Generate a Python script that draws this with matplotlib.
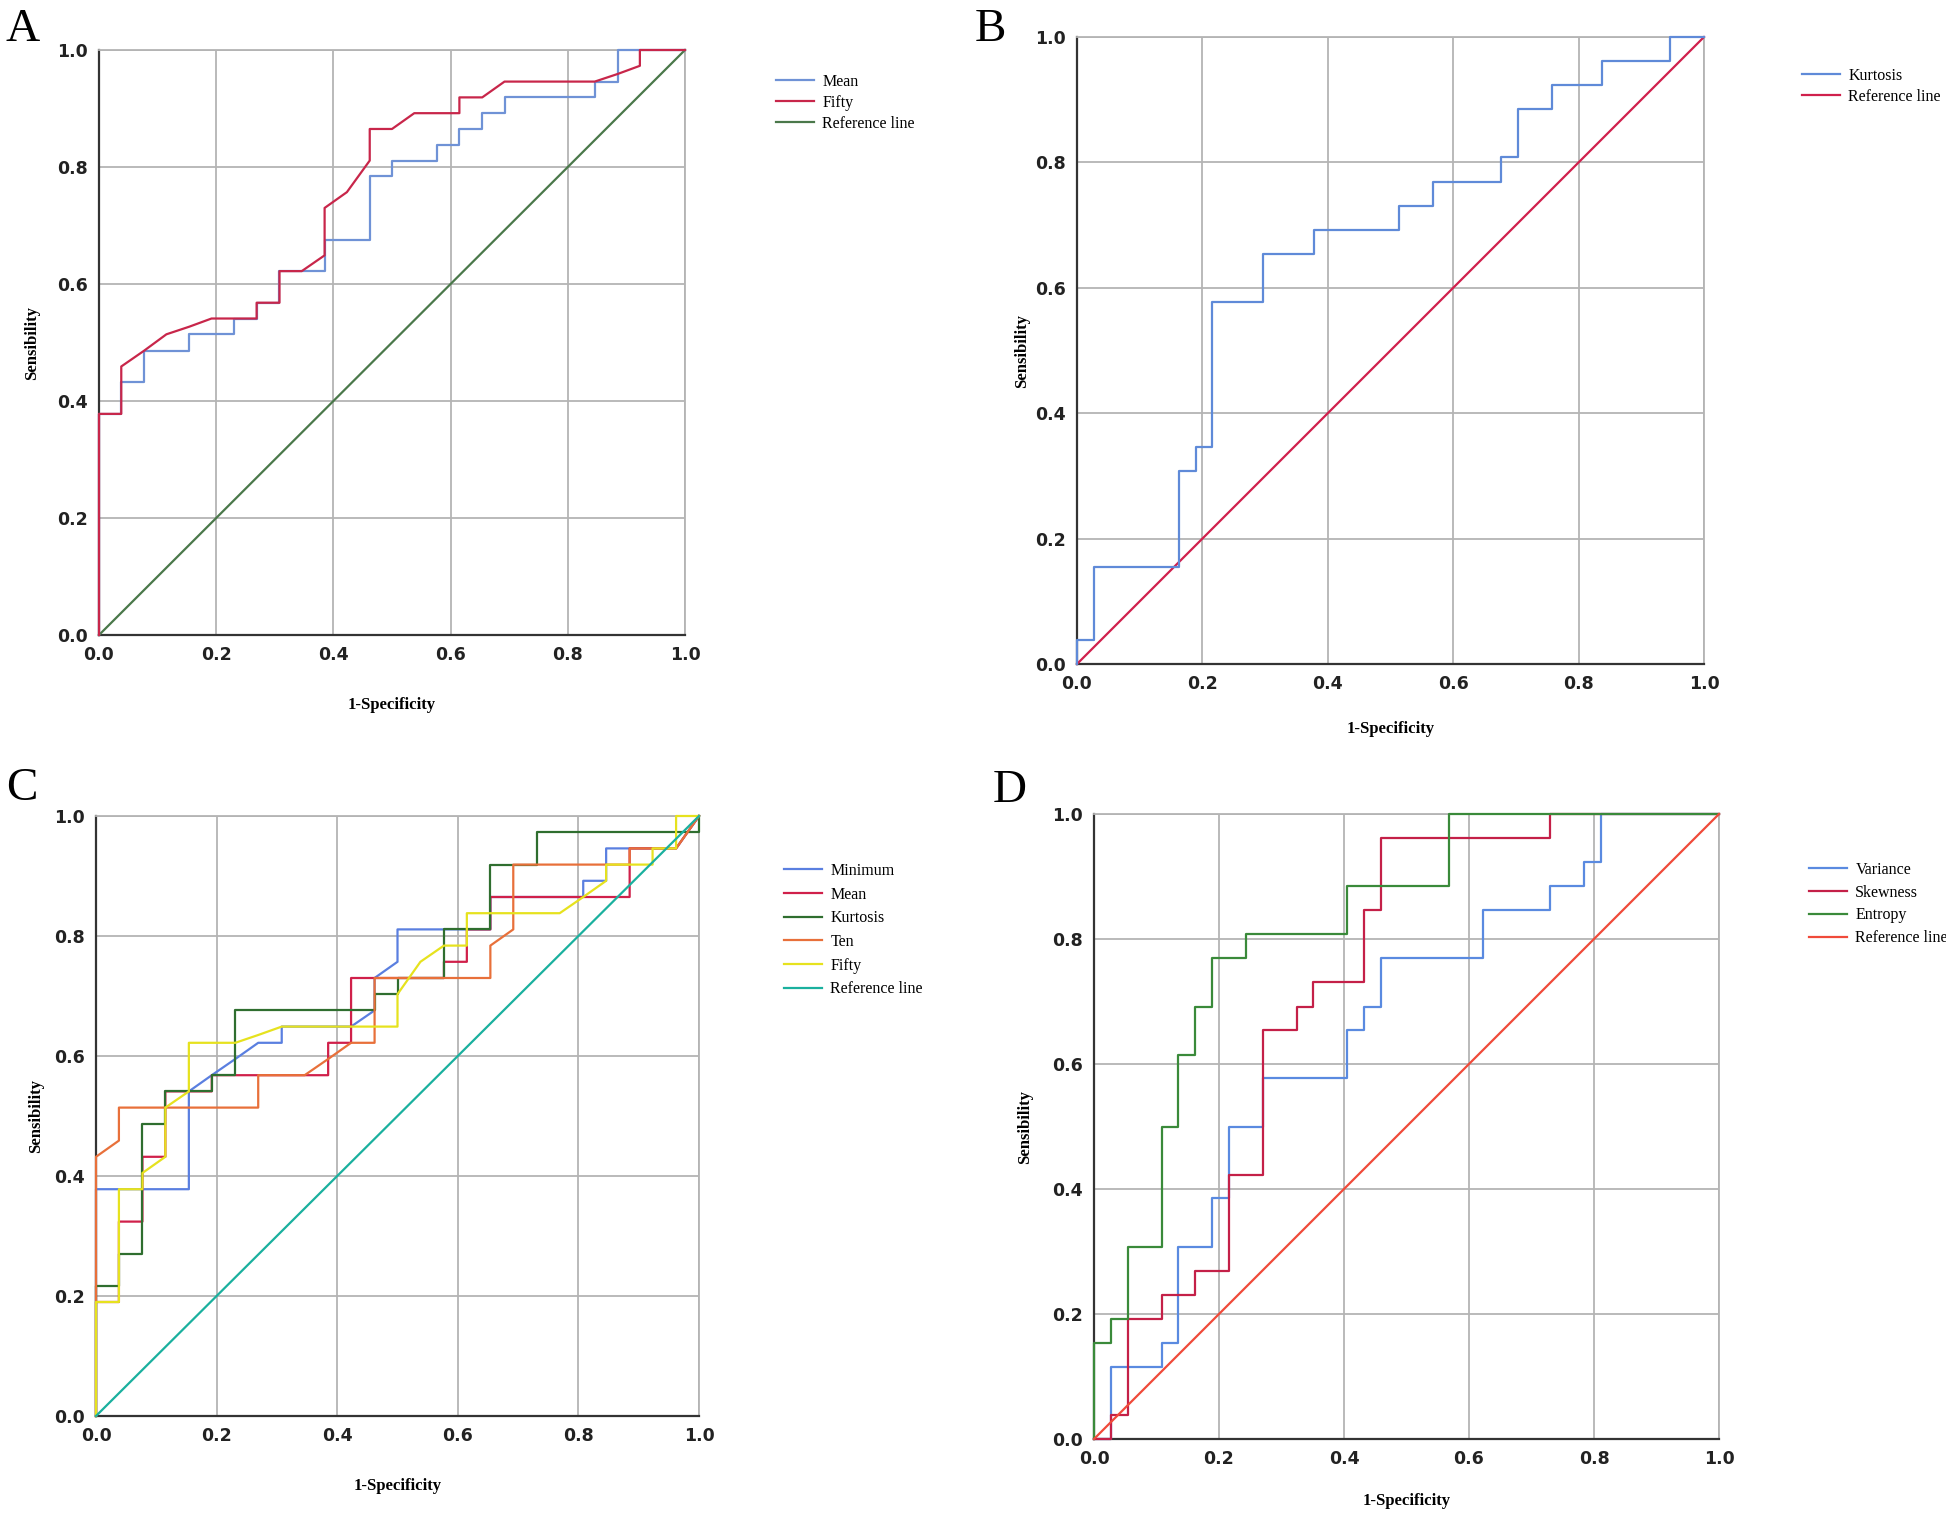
import numpy as np
import matplotlib
matplotlib.use("Agg")
import matplotlib.pyplot as plt

# ---- Panel A ----
a_fpr_mean = [0, 0, 0.038, 0.038, 0.077, 0.077, 0.154, 0.154, 0.231, 0.231, 0.269, 0.269,
              0.308, 0.308, 0.385, 0.385, 0.462, 0.462, 0.5, 0.5, 0.577, 0.577, 0.615, 0.615,
              0.654, 0.654, 0.692, 0.692, 0.846, 0.846, 0.885, 0.885, 1.0]
a_tpr_mean = [0, 0.378, 0.378, 0.432, 0.432, 0.486, 0.486, 0.514, 0.514, 0.541, 0.541, 0.568,
              0.568, 0.622, 0.622, 0.676, 0.676, 0.784, 0.784, 0.811, 0.811, 0.838, 0.838, 0.865,
              0.865, 0.892, 0.892, 0.919, 0.919, 0.946, 0.946, 1.0, 1.0]
a_fpr_fifty = [0, 0, 0.038, 0.038, 0.077, 0.115, 0.154, 0.192, 0.269, 0.269, 0.308, 0.308,
               0.346, 0.385, 0.385, 0.423, 0.462, 0.462, 0.5, 0.538, 0.615, 0.615, 0.654,
               0.692, 0.846, 0.885, 0.923, 0.923, 1.0]
a_tpr_fifty = [0, 0.378, 0.378, 0.459, 0.486, 0.514, 0.527, 0.541, 0.541, 0.568, 0.568, 0.622,
               0.622, 0.649, 0.730, 0.757, 0.811, 0.865, 0.865, 0.892, 0.892, 0.919, 0.919,
               0.946, 0.946, 0.959, 0.973, 1.0, 1.0]

# ---- Panel B ----
b_fpr_kurt = [0, 0, 0.027, 0.027, 0.162, 0.162, 0.189, 0.189, 0.216, 0.216, 0.297, 0.297,
              0.378, 0.378, 0.514, 0.514, 0.568, 0.568, 0.676, 0.676, 0.703, 0.703, 0.757,
              0.757, 0.838, 0.838, 0.946, 0.946, 1.0]
b_tpr_kurt = [0, 0.038, 0.038, 0.154, 0.154, 0.308, 0.308, 0.346, 0.346, 0.577, 0.577, 0.654,
              0.654, 0.692, 0.692, 0.731, 0.731, 0.769, 0.769, 0.808, 0.808, 0.885, 0.885,
              0.923, 0.923, 0.962, 0.962, 1.0, 1.0]

# ---- Panel C ----
c_fpr_min = [0, 0, 0.154, 0.154, 0.192, 0.231, 0.269, 0.308, 0.308, 0.423, 0.462, 0.462, 0.5,
             0.5, 0.654, 0.654, 0.808, 0.808, 0.846, 0.846, 0.962, 1.0]
c_tpr_min = [0, 0.378, 0.378, 0.541, 0.568, 0.595, 0.622, 0.622, 0.649, 0.649, 0.676, 0.730,
             0.757, 0.811, 0.811, 0.865, 0.865, 0.892, 0.892, 0.946, 0.946, 1.0]
c_fpr_mean = [0, 0, 0.038, 0.038, 0.077, 0.077, 0.115, 0.115, 0.192, 0.192, 0.385, 0.385, 0.423,
              0.423, 0.577, 0.577, 0.615, 0.615, 0.654, 0.654, 0.885, 0.885, 0.962, 1.0]
c_tpr_mean = [0, 0.19, 0.19, 0.324, 0.324, 0.432, 0.432, 0.541, 0.541, 0.568, 0.568, 0.622,
              0.622, 0.730, 0.730, 0.757, 0.757, 0.811, 0.811, 0.865, 0.865, 0.946, 0.946, 1.0]
c_fpr_kurt = [0, 0, 0.038, 0.038, 0.077, 0.077, 0.115, 0.115, 0.192, 0.192, 0.231, 0.231, 0.462,
              0.462, 0.5, 0.5, 0.577, 0.577, 0.654, 0.654, 0.731, 0.731, 1.0, 1.0]
c_tpr_kurt = [0, 0.216, 0.216, 0.270, 0.270, 0.486, 0.486, 0.541, 0.541, 0.568, 0.568, 0.676,
              0.676, 0.703, 0.703, 0.730, 0.730, 0.811, 0.811, 0.919, 0.919, 0.973, 0.973, 1.0]
c_fpr_ten = [0, 0, 0.038, 0.038, 0.269, 0.269, 0.346, 0.385, 0.423, 0.462, 0.462, 0.654, 0.654,
             0.692, 0.692, 0.885, 0.885, 0.962, 1.0]
c_tpr_ten = [0, 0.432, 0.459, 0.514, 0.514, 0.568, 0.568, 0.595, 0.622, 0.622, 0.730, 0.730,
             0.784, 0.811, 0.919, 0.919, 0.946, 0.946, 1.0]
c_fpr_fifty = [0, 0, 0.038, 0.038, 0.077, 0.077, 0.115, 0.115, 0.154, 0.154, 0.231, 0.269,
               0.308, 0.5, 0.5, 0.538, 0.577, 0.615, 0.615, 0.769, 0.808, 0.846, 0.846, 0.923,
               0.923, 0.962, 0.962, 1.0]
c_tpr_fifty = [0, 0.19, 0.19, 0.378, 0.378, 0.405, 0.432, 0.514, 0.541, 0.622, 0.622, 0.635,
               0.649, 0.649, 0.703, 0.757, 0.784, 0.784, 0.838, 0.838, 0.865, 0.892, 0.919,
               0.919, 0.946, 0.946, 1.0, 1.0]

# ---- Panel D ----
d_fpr_var = [0, 0.027, 0.027, 0.108, 0.108, 0.135, 0.135, 0.189, 0.189, 0.216, 0.216, 0.270,
             0.270, 0.405, 0.405, 0.432, 0.432, 0.459, 0.459, 0.622, 0.622, 0.730, 0.730, 0.784,
             0.784, 0.811, 0.811, 1.0]
d_tpr_var = [0, 0, 0.115, 0.115, 0.154, 0.154, 0.308, 0.308, 0.385, 0.385, 0.5, 0.5, 0.577,
             0.577, 0.654, 0.654, 0.692, 0.692, 0.769, 0.769, 0.846, 0.846, 0.885, 0.885, 0.923,
             0.923, 1.0, 1.0]
d_fpr_skew = [0, 0.027, 0.027, 0.054, 0.054, 0.108, 0.108, 0.162, 0.162, 0.216, 0.216, 0.270,
              0.270, 0.324, 0.324, 0.351, 0.351, 0.432, 0.432, 0.459, 0.459, 0.730, 0.730, 1.0]
d_tpr_skew = [0, 0, 0.038, 0.038, 0.192, 0.192, 0.231, 0.231, 0.269, 0.269, 0.423, 0.423,
              0.654, 0.654, 0.692, 0.692, 0.731, 0.731, 0.846, 0.846, 0.962, 0.962, 1.0, 1.0]
d_fpr_ent = [0, 0, 0.027, 0.027, 0.054, 0.054, 0.108, 0.108, 0.135, 0.135, 0.162, 0.162,
             0.189, 0.189, 0.243, 0.243, 0.405, 0.405, 0.568, 0.568, 1.0]
d_tpr_ent = [0, 0.154, 0.154, 0.192, 0.192, 0.308, 0.308, 0.5, 0.5, 0.615, 0.615, 0.692,
             0.692, 0.769, 0.769, 0.808, 0.808, 0.885, 0.885, 1.0, 1.0]

ref = [0, 1]
ticks = [0.0, 0.2, 0.4, 0.6, 0.8, 1.0]

serif = "Liberation Serif"

fig = plt.figure(figsize=(19.46, 15.14), dpi=100)
W, H = 1946, 1514


def make_axes(x0, x1, ytop, ybot):
    # axes box given in pixel coordinates of the 1946x1514 figure
    ax = fig.add_axes([x0 / W, 1 - ybot / H, (x1 - x0) / W, (ybot - ytop) / H])
    ax.set_xlim(0, 1)
    ax.set_ylim(0, 1)
    ax.set_xticks(ticks)
    ax.set_yticks(ticks)
    ax.set_xticklabels([f"{t:.1f}" for t in ticks])
    ax.set_yticklabels([f"{t:.1f}" for t in ticks])
    ax.grid(True, color="#b4b4b4", lw=1.3)
    ax.set_axisbelow(True)
    ax.tick_params(length=0, pad=8, labelsize=12.5)
    for lab in ax.get_xticklabels() + ax.get_yticklabels():
        lab.set_fontweight("bold")
        lab.set_color("#222222")
    for s in ["left", "bottom"]:
        ax.spines[s].set_color("#333333")
        ax.spines[s].set_linewidth(1.6)
    for s in ["top", "right"]:
        ax.spines[s].set_color("#b4b4b4")
        ax.spines[s].set_linewidth(1.3)
    return ax


def labels(ax, xpad, ypad):
    ax.set_xlabel("1-Specificity", family=serif, fontweight="bold", fontsize=12, labelpad=xpad)
    ax.set_ylabel("Sensibility", family=serif, fontweight="bold", fontsize=12, labelpad=ypad)


def curve(ax, x, y, color, label):
    return ax.plot(x, y, color=color, lw=1.6, label=label, clip_on=False, zorder=3)[0]


def legend(ax, handles, x, y, spacing):
    ax.legend(handles=handles, loc="upper left", bbox_to_anchor=(x / W, 1 - y / H),
              bbox_transform=fig.transFigure, frameon=False, borderpad=0, borderaxespad=0,
              handlelength=2.4, handletextpad=0.5, labelspacing=spacing,
              prop={"family": serif, "size": 11.5})


# A
axA = make_axes(99, 685, 50, 635)
lA_ref = curve(axA, ref, ref, "#4a784a", "Reference line")
lA_mean = curve(axA, a_fpr_mean, a_tpr_mean, "#6f92d6", "Mean")
lA_fifty = curve(axA, a_fpr_fifty, a_tpr_fifty, "#c8264a", "Fifty")
labels(axA, 24, 12)
legend(axA, [lA_mean, lA_fifty, lA_ref], 776, 74, 0.3)

# B
axB = make_axes(1077, 1704, 37, 664)
lB_ref = curve(axB, ref, ref, "#d0204c", "Reference line")
lB_kurt = curve(axB, b_fpr_kurt, b_tpr_kurt, "#5f8ad8", "Kurtosis")
labels(axB, 20, 4)
legend(axB, [lB_kurt, lB_ref], 1802, 68, 0.3)

# C
axC = make_axes(96, 699, 816, 1416)
hC = [curve(axC, c_fpr_min, c_tpr_min, "#5a7fe0", "Minimum"),
      curve(axC, c_fpr_mean, c_tpr_mean, "#d0204a", "Mean"),
      curve(axC, c_fpr_kurt, c_tpr_kurt, "#2f6e2f", "Kurtosis"),
      curve(axC, c_fpr_ten, c_tpr_ten, "#e8703a", "Ten"),
      curve(axC, c_fpr_fifty, c_tpr_fifty, "#e6e21e", "Fifty"),
      curve(axC, ref, ref, "#1ab09e", "Reference line")]
labels(axC, 24, 7)
legend(axC, hC, 784, 863, 0.48)

# D
axD = make_axes(1094, 1719, 814, 1439)
hD = [curve(axD, d_fpr_var, d_tpr_var, "#5a8ae0", "Variance"),
      curve(axD, d_fpr_skew, d_tpr_skew, "#c42048", "Skewness"),
      curve(axD, d_fpr_ent, d_tpr_ent, "#3a8a3a", "Entropy"),
      curve(axD, ref, ref, "#f04a3a", "Reference line")]
labels(axD, 18, 14)
legend(axD, hD, 1809, 862, 0.42)

# panel letters
for letter, x, y in [("A", 6, 41), ("B", 975, 41), ("C", 6, 800), ("D", 993, 802)]:
    fig.text(x / W, 1 - y / H, letter, family=serif, fontsize=34, va="baseline", ha="left")

fig.savefig("out.png", dpi=100, facecolor="white")
